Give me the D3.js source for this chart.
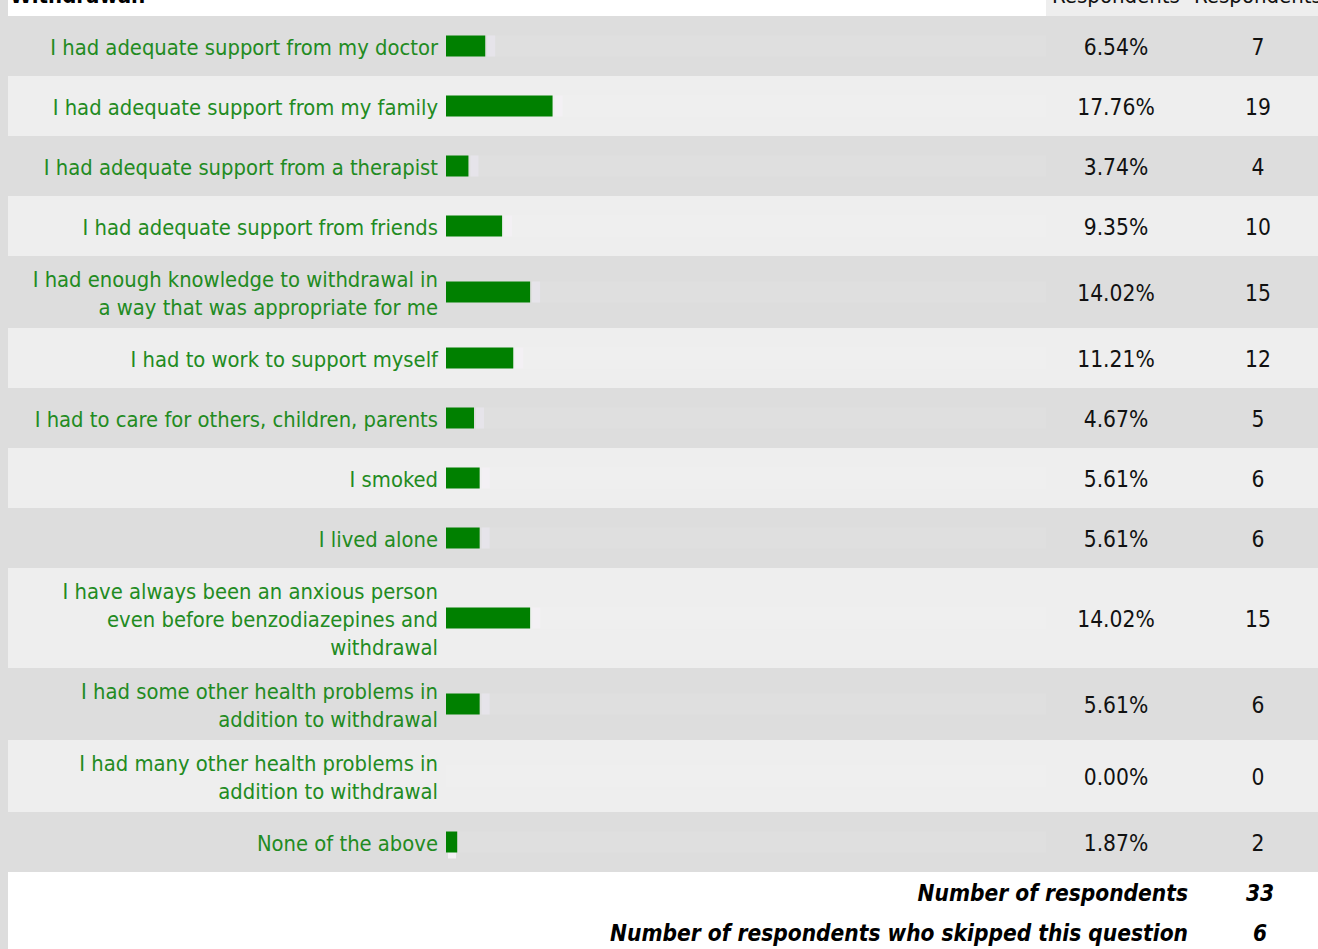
<!DOCTYPE html>
<html><head><meta charset="utf-8">
<script src="https://cdn.jsdelivr.net/npm/d3@7"></script>
<style>html,body{margin:0;padding:0;background:#fff;overflow:hidden}</style>
</head><body>
<script>
const categories = [
  ["I had adequate support from my doctor"],
  ["I had adequate support from my family"],
  ["I had adequate support from a therapist"],
  ["I had adequate support from friends"],
  ["I had enough knowledge to withdrawal in", "a way that was appropriate for me"],
  ["I had to work to support myself"],
  ["I had to care for others, children, parents"],
  ["I smoked"],
  ["I lived alone"],
  ["I have always been an anxious person", "even before benzodiazepines and", "withdrawal"],
  ["I had some other health problems in", "addition to withdrawal"],
  ["I had many other health problems in", "addition to withdrawal"],
  ["None of the above"]
];
const percents = [6.54, 17.76, 3.74, 9.35, 14.02, 11.21, 4.67, 5.61, 5.61, 14.02, 5.61, 0.00, 1.87];
const counts = [7, 19, 4, 10, 15, 12, 5, 6, 6, 15, 6, 0, 2];
const headerLabels = ["Respondents", "Respondents"];
const title = "Withdrawal:";
const footerLabels = ["Number of respondents", "Number of respondents who skipped this question"];
const footerValues = [33, 6];

const W = 1318, H = 949;
const svg = d3.select("body").append("svg").attr("width", W).attr("height", H);
const font = "'DejaVu Sans Condensed', 'DejaVu Sans', sans-serif";

svg.append("rect").attr("x", 0).attr("y", 0).attr("width", W).attr("height", H).attr("fill", "#fff");
svg.append("rect").attr("x", 0).attr("y", 0).attr("width", 8).attr("height", H).attr("fill", "#dddddd");

// header
svg.append("rect").attr("x", 1046).attr("y", 0).attr("width", W - 1046).attr("height", 16).attr("fill", "#eeeeee");
svg.append("text").attr("x", 10).attr("y", 3).attr("font-family", font).attr("font-weight", "bold")
  .attr("font-size", 22).attr("fill", "#000").text(title);
const colX = [1116, 1258];
headerLabels.forEach((h, i) => {
  svg.append("text").attr("x", colX[i]).attr("y", 3).attr("text-anchor", "middle")
    .attr("font-family", font).attr("font-size", 22).attr("fill", "#111").text(h);
});

// row layout
const lineH = 28;
const rowH = categories.map(c => Math.max(60, c.length * lineH + 16));
const rowY = [];
let acc = 16;
rowH.forEach(h => { rowY.push(acc); acc += h; });
const tableBottom = acc;

const x = d3.scaleLinear().domain([0, 100]).range([446, 1046]);

const rows = svg.selectAll("g.row").data(categories).join("g").attr("class", "row")
  .attr("transform", (d, i) => `translate(0,${rowY[i]})`);

rows.append("rect").attr("x", 8).attr("y", 0).attr("width", W - 8).attr("height", (d, i) => rowH[i])
  .attr("fill", (d, i) => i % 2 === 0 ? "#dddddd" : "#eeeeee");

// track
rows.append("rect").attr("x", x(0)).attr("y", (d, i) => rowH[i] / 2 - 10.5)
  .attr("width", x(100) - x(0)).attr("height", 21)
  .attr("fill", (d, i) => i % 2 === 0 ? "#dfdfdf" : "#efefef");

// faint fringe after bar
rows.filter((d, i) => percents[i] > 0).append("rect")
  .attr("x", (d, i) => x(percents[i]) + 2).attr("y", (d, i) => rowH[i] / 2 - 10.5)
  .attr("width", 8).attr("height", 21).attr("fill", (d, i) => i % 2 === 0 ? "#e6e4ea" : "#f3f0f4");

// bars
rows.append("rect").attr("x", x(0)).attr("y", (d, i) => rowH[i] / 2 - 10.5)
  .attr("width", (d, i) => x(percents[i]) - x(0)).attr("height", 21).attr("fill", "#008000");

// labels
rows.each(function(lines, i) {
  const g = d3.select(this);
  const n = lines.length;
  const cy = rowH[i] / 2 + 1;
  lines.forEach((ln, j) => {
    g.append("text").attr("x", 438).attr("y", cy + (j - (n - 1) / 2) * lineH)
      .attr("dy", "0.36em").attr("text-anchor", "end")
      .attr("font-family", font).attr("font-size", 21.8).attr("fill", "#228b22").text(ln);
  });
  g.append("text").attr("x", colX[0]).attr("y", cy).attr("dy", "0.36em").attr("text-anchor", "middle")
    .attr("font-family", font).attr("font-size", 22.6).attr("fill", "#111").text(percents[i].toFixed(2) + "%");
  g.append("text").attr("x", colX[1]).attr("y", cy).attr("dy", "0.36em").attr("text-anchor", "middle")
    .attr("font-family", font).attr("font-size", 22.6).attr("fill", "#111").text(counts[i]);
});

// footer
footerLabels.forEach((f, i) => {
  const y = tableBottom + 21 + i * 40;
  svg.append("text").attr("x", 1188).attr("y", y).attr("dy", "0.36em").attr("text-anchor", "end")
    .attr("font-family", font).attr("font-weight", "bold").attr("font-style", "italic")
    .attr("font-size", 22.5).attr("fill", "#000").text(f);
  svg.append("text").attr("x", 1260).attr("y", y).attr("dy", "0.36em").attr("text-anchor", "middle")
    .attr("font-family", font).attr("font-weight", "bold").attr("font-style", "italic")
    .attr("font-size", 22.5).attr("fill", "#000").text(footerValues[i]);
});
</script>
</body></html>
